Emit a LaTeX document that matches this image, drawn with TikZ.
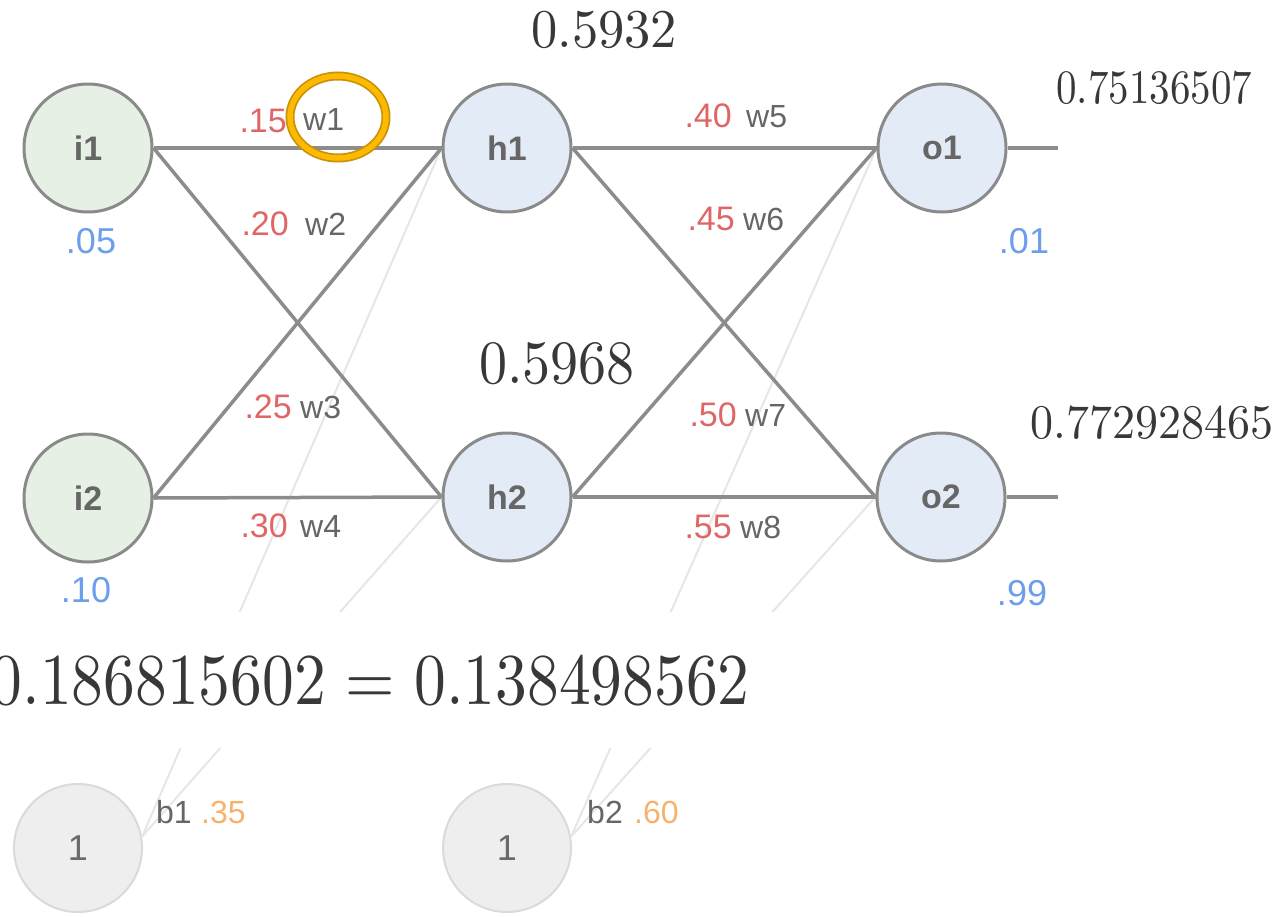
\documentclass[tikz,border=0pt]{standalone}
\usepackage{fontspec}
\setsansfont{Liberation Sans}
\newfontfamily\cmten{lmroman10-regular}[Extension=.otf]
\usepackage{graphicx}
\definecolor{nodeline}{HTML}{8A8A8A}
\definecolor{connline}{HTML}{8C8C8C}
\definecolor{faintline}{HTML}{E6E6E6}
\definecolor{inpfill}{HTML}{E7F0E4}
\definecolor{hidfill}{HTML}{E3EBF6}
\definecolor{biasfill}{HTML}{EEEEEE}
\definecolor{biasline}{HTML}{DADADA}
\definecolor{biastext}{HTML}{6A6A6A}
\definecolor{labgray}{HTML}{666666}
\definecolor{wred}{HTML}{E06666}
\definecolor{tblue}{HTML}{6D9EEB}
\definecolor{borange}{HTML}{F6B26B}
\definecolor{numgray}{HTML}{383838}
\definecolor{ringdark}{HTML}{C8930A}
\definecolor{ringlight}{HTML}{FFBA00}
\begin{document}
\begin{tikzpicture}[x=1pt,y=-1pt,
  neuron/.style={circle, draw=nodeline, line width=3pt, minimum size=128pt, inner sep=0pt,
    font=\sffamily\bfseries\fontsize{34}{40}\selectfont, text=labgray},
  inp/.style={neuron, fill=inpfill},
  hid/.style={neuron, fill=hidfill},
  biasnode/.style={circle, draw=biasline, line width=2pt, fill=biasfill, minimum size=128pt,
    inner sep=0pt, font=\sffamily\fontsize{36}{40}\selectfont, text=biastext},
  conn/.style={draw=connline, line width=3.5pt},
  faint/.style={draw=faintline, line width=2pt},
  wval/.style={font=\sffamily\fontsize{34}{40}\selectfont, text=wred, inner sep=0pt, anchor=base east},
  wname/.style={font=\sffamily\fontsize{32}{40}\selectfont, text=labgray, inner sep=0pt, anchor=base west},
  tval/.style={font=\sffamily\fontsize{36}{40}\selectfont, text=tblue, inner sep=0pt, anchor=base},
  bname/.style={font=\sffamily\fontsize{32}{40}\selectfont, text=labgray, inner sep=0pt, anchor=base west},
  bval/.style={font=\sffamily\fontsize{32}{40}\selectfont, text=borange, inner sep=0pt, anchor=base west},
  bignum/.style={inner sep=0pt, text=numgray}
]
\useasboundingbox (0,0) rectangle (1279,916);
\clip (0,0) rectangle (1279,916);

% neurons
\node[inp] (i1) at (88,148) {i1};
\node[inp] (i2) at (88,498) {i2};
\node[hid] (h1) at (507,148) {h1};
\node[hid] (h2) at (507,497) {h2};
\node[hid] (o1) at (942,148) {o1};
\node[hid] (o2) at (941,497) {o2};
\node[biasnode] (b1) at (78,848) {1};
\node[biasnode] (b2) at (507,848) {1};
\coordinate (out1) at (1058,148);
\coordinate (out2) at (1058,497);

% faint bias connectors
\draw[faint] (b1.10) -- (h1.west);
\draw[faint] (b1.10) -- (h2.west);
\draw[faint] (b2.10) -- (o1.west);
\draw[faint] (b2.10) -- (o2.west);

% connectors
\draw[conn] (i1.east) -- (h1.west);
\draw[conn] (i1.east) -- (h2.west);
\draw[conn] (i2.east) -- (h1.west);
\draw[conn] (i2.east) -- (h2.west);
\draw[conn] (h1.east) -- (o1.west);
\draw[conn] (h1.east) -- (o2.west);
\draw[conn] (h2.east) -- (o1.west);
\draw[conn] (h2.east) -- (o2.west);
\draw[conn] (o1.east) -- (out1);
\draw[conn] (o2.east) -- (out2);

% weight labels
\node[wval] (v1) at (287,132) {.15};
\node[wname] (n1) at (303,130) {w1};
\node[wval] (v2) at (289,235) {.20};
\node[wname] (n2) at (305,235) {w2};
\node[wval] (v3) at (292,418) {.25};
\node[wname] (n3) at (300,418) {w3};
\node[wval] (v4) at (288,537) {.30};
\node[wname] (n4) at (300,537) {w4};
\node[wval] (v5) at (732,127) {.40};
\node[wname] (n5) at (746,127) {w5};
\node[wval] (v6) at (735,230) {.45};
\node[wname] (n6) at (743,230) {w6};
\node[wval] (v7) at (737,426) {.50};
\node[wname] (n7) at (745,426) {w7};
\node[wval] (v8) at (732,538) {.55};
\node[wname] (n8) at (740,538) {w8};

% input / target values
\node[tval] (t1) at (91,253) {.05};
\node[tval] (t2) at (86,602) {.10};
\node[tval] (t3) at (1024,253) {.01};
\node[tval] (t4) at (1022,605) {.99};

% white band with formula
\fill[white] (-5,612) rectangle (1284,748);
\node[bignum, anchor=base east] (formula) at (750,704)
  {\scalebox{1}[1.15]{\cmten\fontsize{63.5}{70}\selectfont 0.186815602\hspace{0.31em}=\hspace{0.31em}0.138498562}};

% bias labels
\node[bname] (bn1) at (156,823) {b1};
\node[bval] (bv1) at (201,823) {.35};
\node[bname] (bn2) at (587,823) {b2};
\node[bval] (bv2) at (634,823) {.60};

% big numbers
\node[bignum, anchor=base west] (nh1) at (531,47)
  {\scalebox{1}[1.04]{\cmten\fontsize{52.5}{60}\selectfont 0.5932}};
\node[bignum, anchor=base west] (nh2) at (479,383)
  {\scalebox{1}[1.1]{\cmten\fontsize{56}{60}\selectfont 0.5968}};
\node[bignum, anchor=base west] (no1) at (1056,103)
  {\scalebox{1}[1.17]{\cmten\fontsize{41}{50}\selectfont 0.75136507}};
\node[bignum, anchor=base west] (no2) at (1030,438)
  {\scalebox{1}[1.05]{\cmten\fontsize{46}{50}\selectfont 0.772928465}};

% highlight ring around w1
\draw[ringdark, line width=9pt] (338,117) ellipse [x radius=48, y radius=41];
\draw[ringlight, line width=5.5pt] (338,117) ellipse [x radius=48, y radius=41];
\end{tikzpicture}
\end{document}
